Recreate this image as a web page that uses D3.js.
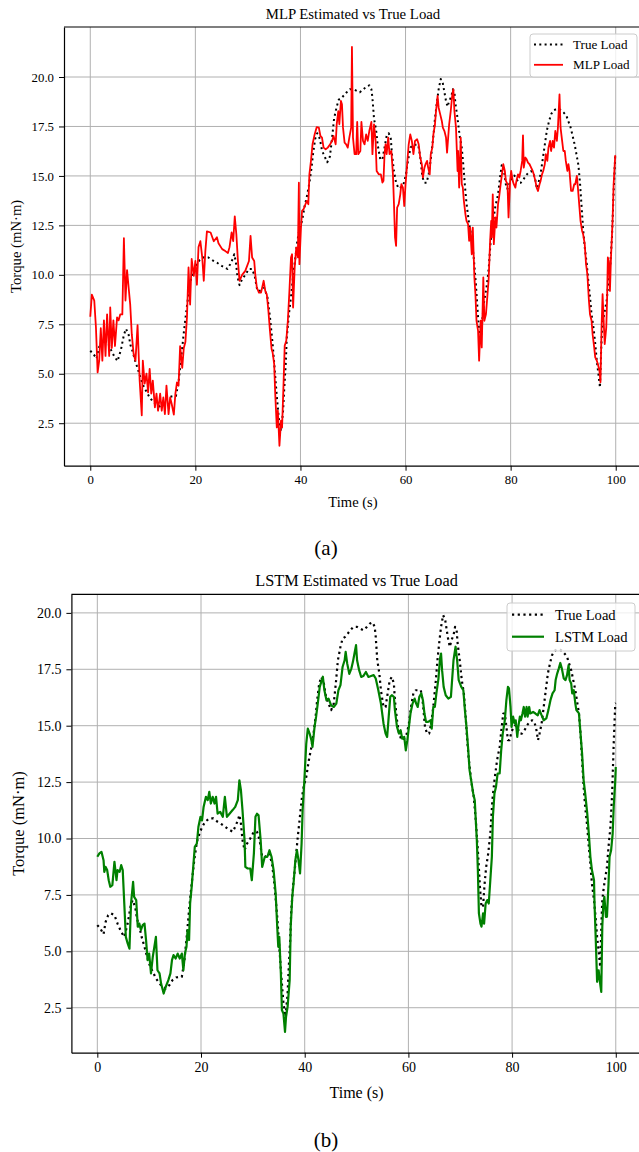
<!DOCTYPE html>
<html>
<head>
<meta charset="utf-8">
<script src="https://cdn.jsdelivr.net/npm/d3@7"></script>
<style>
  body { margin: 0; background: #fff; }
  svg { display: block; font-family: "Liberation Serif", "Times New Roman", serif; }
</style>
</head>
<body>
<svg id="fig" width="639" height="1152"></svg>
<script>
// [time (s), torque (mN·m)]
const trueLoad = [
  [0,6.16],[0.6,6.0],[1.2,5.76],[1.6,6.3],[2.1,6.6],[2.6,6.68],[3.3,6.6],[3.9,6.23],[4.6,5.86],[5.2,5.64],
  [5.85,6.23],[6.4,6.97],[6.8,7.27],[7.3,6.97],[7.65,6.45],[8.1,6.09],[8.55,5.64],[9.1,5.2],[9.6,4.76],[10.1,4.39],
  [10.7,4.09],[11.3,3.8],[12.0,3.57],[12.6,3.43],[13.2,3.35],[13.9,3.5],[14.5,3.72],[15.2,3.84],[15.8,3.87],[16.3,3.87],
  [16.8,4.6],[17.3,5.79],[17.75,6.97],[18.2,8.0],[18.7,9.04],[19.2,9.85],[19.7,10.22],[20.2,10.5],[20.8,10.74],[21.6,10.89],
  [22.4,10.89],[23.2,10.74],[24.2,10.6],[25.1,10.44],[26.1,10.3],[26.6,10.52],[27.1,10.8],[27.4,11.04],[27.7,10.66],[28.0,9.93],
  [28.4,9.48],[28.9,9.78],[29.5,10.0],[30.2,10.3],[30.8,10.3],[31.3,9.93],[31.8,9.19],[32.4,9.19],[33.1,9.34],[33.7,8.9],
  [34.2,7.86],[34.7,6.53],[35.1,5.2],[35.5,3.87],[35.9,2.7],[36.3,2.1],[36.7,3.13],[36.9,4.16],[37.2,5.5],[37.4,6.82],
  [37.8,8.0],[38.2,8.89],[38.6,9.93],[39.0,10.8],[39.4,11.7],[39.8,12.3],[40.3,12.73],[40.8,13.47],[41.3,14.06],[41.7,14.65],
  [42.1,15.39],[42.4,16.13],[42.8,16.87],[43.2,17.16],[43.7,16.87],[44.1,16.28],[44.6,15.98],[45.1,15.69],[45.6,15.98],[46.0,16.87],
  [46.4,17.9],[46.9,18.5],[47.3,18.86],[47.8,18.94],[48.3,19.08],[48.8,19.23],[49.4,19.38],[50.1,19.38],[50.7,19.3],[51.3,19.23],
  [52.0,19.38],[52.6,19.53],[53.1,19.58],[53.5,19.38],[53.7,18.94],[54.0,17.9],[54.4,17.31],[54.7,16.57],[55.2,15.83],[55.6,15.83],
  [56.0,16.43],[56.4,17.02],[56.8,17.16],[57.2,16.87],[57.4,16.13],[57.8,15.24],[58.2,14.65],[58.7,14.36],[59.2,14.43],[59.7,14.65],
  [60.1,15.1],[60.5,15.83],[60.96,16.43],[61.4,16.57],[61.9,16.57],[62.4,16.57],[62.8,15.98],[63.2,14.95],[63.6,14.65],[64.0,14.65],
  [64.4,15.1],[64.8,15.83],[65.3,17.02],[65.6,17.9],[66.0,18.79],[66.3,19.38],[66.7,19.9],[67.1,19.68],[67.4,19.23],[67.7,18.79],
  [68.0,18.5],[68.3,18.79],[68.7,19.0],[69.0,19.38],[69.3,19.23],[69.5,18.64],[69.9,17.9],[70.3,17.02],[70.7,16.43],[71.0,15.54],
  [71.3,14.5],[71.6,13.62],[72.1,12.58],[72.6,11.85],[73.0,10.8],[73.4,9.48],[73.8,7.86],[74.1,6.97],[74.4,6.97],[74.7,8.0],
  [75.0,8.74],[75.4,9.34],[75.8,10.22],[76.2,11.7],[76.6,12.58],[77.1,13.47],[77.6,14.06],[78.0,14.95],[78.3,15.54],[78.6,15.54],
  [78.9,14.95],[79.2,14.36],[79.5,14.36],[79.9,14.73],[80.3,14.95],[80.7,15.02],[81.1,14.87],[81.5,14.65],[81.9,14.65],[82.4,14.8],
  [82.9,15.02],[83.4,15.17],[83.9,15.24],[84.3,15.17],[84.7,14.8],[85.0,14.36],[85.3,14.65],[85.7,15.1],[86.1,15.83],[86.5,16.57],
  [86.9,17.31],[87.3,17.75],[87.7,18.12],[88.2,18.32],[88.7,18.38],[89.2,18.38],[89.6,18.32],[90.1,18.2],[90.6,18.05],[91.0,17.75],
  [91.4,17.46],[91.8,17.02],[92.2,16.57],[92.5,16.13],[92.9,15.54],[93.2,14.65],[93.5,13.47],[93.8,12.29],[94.1,11.4],[94.5,10.52],
  [94.8,9.63],[95.1,8.89],[95.4,8.0],[95.8,7.27],[96.1,6.53],[96.4,5.64],[96.7,5.0],[97.0,4.3],[97.2,6.0],[97.4,7.27],
  [97.7,7.86],[98.0,8.3],[98.3,8.74],[98.6,9.63],[98.97,10.52],[99.3,12.0],[99.6,14.2],[99.9,15.98],[100,16.0]
];

const mlpLoad = [
  [0,7.88],[0.3,9.0],[0.76,8.7],[1.08,7.34],[1.4,5.07],[1.7,5.66],[2.0,7.3],[2.3,5.66],[2.6,7.7],[2.9,5.9],
  [3.2,8.0],[3.6,5.9],[3.8,8.35],[4.1,6.3],[4.4,7.7],[4.7,6.4],[5.1,7.85],[5.4,7.7],[5.7,8.0],[6.1,8.0],
  [6.4,11.85],[6.7,8.7],[7.0,10.24],[7.3,9.36],[7.6,8.5],[7.9,7.0],[8.25,6.0],[8.6,5.66],[9.0,7.46],[9.4,4.65],
  [9.8,2.9],[10.0,5.66],[10.35,4.5],[10.7,5.0],[11.0,4.06],[11.3,5.25],[11.6,4.0],[11.9,4.65],[12.3,3.3],[12.6,4.0],
  [12.9,3.13],[13.3,4.0],[13.6,3.13],[13.9,3.8],[14.2,2.96],[14.5,4.4],[14.9,2.96],[15.2,3.8],[15.5,3.47],[15.9,2.93],
  [16.2,4.0],[16.5,4.56],[16.8,4.4],[17.1,6.4],[17.5,5.3],[17.8,6.3],[18.1,6.6],[18.4,7.85],[18.7,10.37],[19.0,8.5],
  [19.3,10.8],[19.7,9.95],[20.0,10.7],[20.3,9.5],[20.6,11.4],[20.95,11.7],[21.3,10.9],[21.6,9.7],[21.9,11.2],[22.2,12.2],
  [22.9,12.14],[23.5,11.7],[24.1,11.9],[24.4,11.6],[25.1,11.3],[25.7,11.2],[26.2,11.1],[26.5,11.4],[26.9,12.14],[27.2,11.7],
  [27.5,12.96],[27.8,12.05],[28.1,10.7],[28.4,9.7],[28.9,10.0],[29.5,10.2],[30.2,10.7],[30.5,11.97],[30.8,10.88],[31.2,10.7],
  [31.4,10.03],[31.7,9.36],[32.1,9.1],[32.5,9.1],[33.0,9.7],[33.3,9.19],[33.6,9.0],[33.9,8.18],[34.2,7.17],[34.5,6.25],
  [34.7,6.08],[35.0,5.49],[35.2,3.97],[35.5,2.29],[35.7,3.13],[36.0,1.36],[36.3,2.63],[36.5,2.29],[36.8,4.65],[37.0,6.41],
  [37.3,6.67],[37.6,7.68],[37.9,9.19],[38.2,10.88],[38.4,11.04],[38.6,8.35],[38.9,10.37],[39.2,11.38],[39.5,10.88],[39.7,14.66],
  [39.8,10.54],[40.1,12.39],[40.3,13.23],[40.6,13.32],[40.95,13.57],[41.2,13.74],[41.5,13.57],[41.7,15.08],[42.0,15.76],[42.3,16.6],
  [42.7,17.1],[43.1,17.47],[43.5,17.44],[43.8,17.02],[44.1,16.94],[44.4,16.43],[44.8,16.35],[45.2,16.43],[45.65,16.6],[46.0,16.77],
  [46.3,17.02],[46.7,16.6],[46.9,17.61],[47.2,18.28],[47.4,17.61],[47.7,18.79],[47.9,18.62],[48.1,17.44],[48.4,16.68],[48.7,16.6],
  [49.0,16.43],[49.3,16.94],[49.65,17.44],[49.8,21.52],[50.0,16.94],[50.3,16.1],[50.6,16.1],[50.8,17.73],[51.0,16.1],[51.4,16.26],
  [51.6,17.73],[51.9,16.77],[52.2,16.6],[52.5,17.1],[52.8,16.77],[53.1,17.27],[53.5,17.73],[53.7,16.1],[54.0,17.61],[54.3,16.77],
  [54.5,15.25],[54.9,15.08],[55.3,15.08],[55.6,14.66],[55.8,14.75],[56.0,16.1],[56.2,16.6],[56.4,16.1],[56.7,16.94],[56.95,16.1],
  [57.3,16.26],[57.6,15.08],[57.8,13.57],[58.0,11.89],[58.2,11.46],[58.4,13.4],[58.7,13.57],[59.0,14.07],[59.2,14.58],[59.5,14.41],
  [59.75,13.48],[60.0,14.58],[60.25,15.42],[60.6,16.6],[60.9,17.1],[61.2,16.77],[61.5,16.1],[61.8,16.77],[62.2,16.85],[62.5,16.6],
  [62.8,15.93],[63.1,15.59],[63.3,14.92],[63.6,15.42],[63.8,15.59],[64.1,15.76],[64.3,15.42],[64.6,15.08],[64.8,16.1],[65.1,16.43],
  [65.3,17.1],[65.6,17.61],[65.8,18.28],[66.1,19.04],[66.3,18.45],[66.6,18.11],[66.9,17.78],[67.1,17.44],[67.4,17.27],[67.7,16.94],
  [67.9,16.18],[68.3,17.61],[68.6,18.28],[68.9,19.12],[69.1,19.38],[69.3,18.28],[69.6,17.44],[69.9,15.25],[70.0,16.26],[70.2,14.41],
  [70.5,16.94],[70.7,14.58],[70.9,14.41],[71.1,13.74],[71.4,13.06],[71.6,12.73],[71.9,12.56],[72.1,11.72],[72.3,12.39],[72.6,11.04],
  [72.8,12.39],[73.1,9.87],[73.3,9.02],[73.5,7.68],[73.8,7.17],[74.0,5.66],[74.3,7.68],[74.5,6.33],[74.8,9.87],[75.0,7.68],
  [75.3,8.01],[75.6,9.02],[75.8,9.7],[76.1,11.72],[76.3,12.73],[76.4,11.89],[76.6,14.07],[76.8,11.55],[77.1,12.9],[77.3,12.39],
  [77.6,13.57],[77.8,13.91],[78.1,14.58],[78.35,15.08],[78.6,15.59],[78.9,15.25],[79.1,14.75],[79.4,14.58],[79.6,12.9],[79.9,14.75],
  [80.1,15.25],[80.4,14.75],[80.6,14.58],[80.9,14.41],[81.1,14.75],[81.4,15.08],[81.65,14.92],[81.9,15.25],[82.2,15.76],[82.35,17.05],
  [82.5,15.42],[82.8,15.93],[83.05,15.84],[83.3,15.67],[83.6,15.59],[83.9,15.42],[84.2,15.25],[84.4,15.08],[84.7,14.75],[84.95,14.41],
  [85.2,14.24],[85.5,14.58],[85.7,14.75],[85.97,15.08],[86.2,15.25],[86.5,15.59],[86.7,16.1],[86.98,15.76],[87.2,16.43],[87.5,16.77],
  [87.7,16.26],[88.0,16.77],[88.25,16.43],[88.5,17.27],[88.8,16.77],[89.0,17.44],[89.3,19.12],[89.5,17.44],[89.8,16.77],[90.03,16.26],
  [90.3,16.26],[90.5,15.76],[90.8,15.25],[91.0,15.59],[91.2,15.25],[91.5,14.24],[91.8,14.24],[92.1,14.58],[92.3,14.58],[92.6,15.0],
  [92.8,14.41],[93.1,13.4],[93.3,12.73],[93.6,12.22],[93.8,12.05],[94.1,11.55],[94.35,10.54],[94.6,10.03],[94.9,8.69],[95.1,8.01],
  [95.4,7.68],[95.6,7.0],[95.9,6.33],[96.1,5.83],[96.4,5.66],[96.6,5.49],[96.9,5.15],[97.1,4.56],[97.3,7.34],[97.5,9.02],
  [97.7,7.68],[97.9,6.5],[98.2,7.34],[98.35,8.69],[98.5,10.88],[98.7,10.7],[98.9,9.19],[99.1,10.88],[99.4,12.73],[99.6,14.58],
  [99.9,16.01],[100,16.04]
];

const lstmLoad = [
  [0,9.19],[0.4,9.34],[0.8,9.41],[1.2,9.04],[1.35,8.52],[1.6,8.74],[1.9,8.6],[2.2,8.15],[2.5,7.86],[2.9,7.93],
  [3.3,8.97],[3.7,8.15],[3.9,8.6],[4.3,8.52],[4.6,8.82],[4.9,8.6],[5.2,7.12],[5.5,5.64],[5.85,5.35],[6.2,5.12],
  [6.5,7.12],[6.9,8.08],[7.1,7.41],[7.5,7.27],[7.8,6.09],[8.1,6.23],[8.4,5.94],[8.75,6.16],[9.1,6.23],[9.4,5.5],
  [9.7,4.61],[10.0,4.9],[10.35,4.02],[10.7,4.76],[11.0,5.2],[11.3,5.64],[11.6,4.16],[12.0,4.02],[12.3,3.57],[12.8,3.13],
  [13.2,3.43],[13.7,3.72],[14.1,4.02],[14.4,4.61],[14.7,4.83],[15.1,4.68],[15.5,4.9],[15.9,4.68],[16.3,4.9],[16.6,4.16],
  [16.9,4.9],[17.2,5.2],[17.4,5.94],[17.7,5.5],[17.9,7.12],[18.2,7.86],[18.6,9.04],[18.8,9.63],[19.2,9.78],[19.5,10.52],
  [19.9,10.96],[20.2,10.8],[20.5,11.4],[20.95,11.85],[21.3,11.7],[21.6,12.07],[21.9,11.55],[22.25,11.85],[22.6,11.55],[22.9,11.85],
  [23.2,11.1],[23.7,11.18],[24.2,10.96],[24.6,11.85],[25.0,10.96],[25.5,11.1],[26.1,11.26],[26.6,11.4],[27.1,11.7],[27.4,12.58],
  [27.7,12.14],[28.0,11.26],[28.4,9.93],[28.55,8.74],[29.0,8.67],[29.5,8.67],[29.8,8.15],[30.2,9.34],[30.5,10.96],[30.8,11.1],
  [31.1,11.03],[31.5,9.93],[31.8,8.74],[32.3,9.19],[32.8,9.19],[33.2,9.48],[33.6,9.19],[34.0,8.6],[34.4,7.56],[34.7,6.09],
  [34.9,5.2],[35.1,5.64],[35.4,4.02],[35.6,2.4],[35.9,2.24],[36.2,1.43],[36.4,2.1],[36.7,2.54],[37.1,3.72],[37.3,6.09],
  [37.6,7.41],[37.9,8.15],[38.2,9.04],[38.5,9.48],[38.8,9.04],[39.1,8.45],[39.4,9.78],[39.6,11.26],[39.9,12.44],[40.3,14.2],
  [40.6,14.87],[40.95,14.65],[41.3,14.35],[41.5,14.06],[41.9,14.95],[42.2,15.4],[42.6,16.13],[42.9,16.72],[43.2,16.94],[43.5,17.17],
  [43.8,16.57],[44.2,16.13],[44.6,16.2],[45.1,15.9],[45.6,15.83],[46.1,15.98],[46.5,16.57],[46.9,16.8],[47.3,17.6],[47.7,17.9],
  [47.9,18.27],[48.2,17.75],[48.6,17.3],[49.0,17.53],[49.3,17.83],[49.6,18.2],[49.9,18.57],[50.1,17.9],[50.5,17.46],[50.9,17.16],
  [51.3,17.2],[51.8,17.38],[52.3,17.16],[52.8,17.2],[53.3,17.24],[53.7,17.09],[54.2,16.57],[54.7,15.98],[55.2,15.1],[55.6,14.65],
  [55.9,14.5],[56.2,15.39],[56.5,16.28],[56.8,16.35],[57.2,16.28],[57.4,15.69],[57.8,14.95],[58.2,14.65],[58.5,14.8],[58.8,14.43],
  [59.2,14.5],[59.5,13.91],[59.8,14.36],[60.1,14.95],[60.4,15.54],[60.8,15.98],[61.2,16.2],[61.5,15.98],[61.8,15.83],[62.1,16.28],
  [62.5,16.43],[62.8,16.13],[63.1,15.54],[63.4,15.17],[63.8,15.17],[64.3,15.24],[64.5,14.87],[64.8,15.83],[65.1,15.83],[65.4,16.43],
  [65.8,17.09],[66.1,17.98],[66.3,18.2],[66.5,17.46],[66.8,16.72],[67.2,16.35],[67.7,16.2],[68.2,16.28],[68.7,17.9],[69.1,18.5],
  [69.4,17.9],[69.7,17.02],[70.2,16.72],[70.6,16.57],[70.9,15.69],[71.2,14.95],[71.5,14.06],[71.8,13.03],[72.2,12.44],[72.5,12.0],
  [72.8,11.7],[73.0,10.8],[73.2,9.93],[73.4,8.6],[73.6,6.68],[73.9,6.23],[74.1,6.09],[74.4,6.68],[74.6,6.23],[74.9,7.12],
  [75.2,7.27],[75.5,7.12],[75.8,8.15],[76.1,9.19],[76.3,10.96],[76.6,12.0],[76.9,12.29],[77.2,12.88],[77.6,12.88],[77.9,13.91],
  [78.2,14.65],[78.6,15.24],[78.9,16.13],[79.2,16.72],[79.4,16.65],[79.7,15.83],[79.9,14.95],[80.2,15.4],[80.5,15.1],[80.7,15.24],
  [81.0,14.5],[81.2,14.95],[81.5,15.4],[81.7,15.24],[82.0,15.54],[82.25,15.83],[82.5,15.4],[82.8,15.83],[83.0,15.4],[83.3,15.83],
  [83.5,15.54],[84.05,15.61],[84.5,15.54],[84.95,15.46],[85.3,15.69],[85.7,15.46],[86.1,15.24],[86.6,15.32],[87.0,15.69],[87.4,16.13],
  [87.8,16.43],[88.2,16.57],[88.4,17.02],[88.7,17.31],[89.0,17.53],[89.3,17.78],[89.6,17.53],[89.97,17.09],[90.3,17.02],[90.6,17.24],
  [90.9,17.68],[91.1,17.02],[91.4,16.87],[91.6,16.43],[91.9,16.57],[92.2,15.98],[92.4,15.69],[92.7,15.61],[92.9,15.54],[93.2,14.65],
  [93.5,13.77],[93.8,12.58],[94.1,12.0],[94.5,11.1],[94.8,10.22],[95.1,9.19],[95.4,8.6],[95.8,8.15],[95.9,7.12],[96.1,5.79],
  [96.4,3.65],[96.7,4.16],[96.9,3.72],[97.2,3.2],[97.4,6.09],[97.6,7.12],[97.8,7.41],[98.1,6.53],[98.3,6.53],[98.6,8.0],
  [98.8,9.19],[99.1,9.48],[99.4,10.22],[99.6,11.4],[99.9,12.58],[100,13.17]
];

const xTicks = [0, 20, 40, 60, 80, 100];
const yTicks = [2.5, 5.0, 7.5, 10.0, 12.5, 15.0, 17.5, 20.0];

const svg = d3.select('#fig');

function drawPanel(p) {
  const g = svg.append('g');
  const all = p.series.flatMap(s => s.data);
  const xe = d3.extent(all, d => d[0]);
  const ye = d3.extent(all, d => d[1]);
  const xm = (xe[1] - xe[0]) * 0.05, ym = (ye[1] - ye[0]) * 0.05;
  const x = d3.scaleLinear([xe[0] - xm, xe[1] + xm], [p.left, p.right]);
  const y = d3.scaleLinear([ye[0] - ym, ye[1] + ym], [p.bottom, p.top]);

  // grid
  g.append('g').selectAll('line').data(xTicks).join('line')
    .attr('x1', d => x(d)).attr('x2', d => x(d))
    .attr('y1', p.top).attr('y2', p.bottom)
    .attr('stroke', '#b0b0b0').attr('stroke-width', 1);
  g.append('g').selectAll('line').data(yTicks).join('line')
    .attr('x1', p.left).attr('x2', p.right)
    .attr('y1', d => y(d)).attr('y2', d => y(d))
    .attr('stroke', '#b0b0b0').attr('stroke-width', 1);

  const clipId = 'clip-' + p.id;
  g.append('clipPath').attr('id', clipId)
    .append('rect')
    .attr('x', p.left).attr('y', p.top)
    .attr('width', p.right - p.left).attr('height', p.bottom - p.top);

  const line = d3.line().x(d => x(d[0])).y(d => y(d[1]));
  g.append('g').attr('clip-path', `url(#${clipId})`)
    .selectAll('path').data(p.series).join('path')
    .attr('d', s => line(s.data))
    .attr('fill', 'none')
    .attr('stroke', s => s.color)
    .attr('stroke-width', s => s.width)
    .attr('stroke-dasharray', s => s.dash)
    .attr('stroke-linejoin', 'round');

  // axes
  const ax = g.append('g')
    .attr('transform', `translate(0,${p.bottom})`)
    .call(d3.axisBottom(x).tickValues(xTicks).tickFormat(d3.format('d'))
      .tickSize(5).tickSizeOuter(0).tickPadding(4));
  const ay = g.append('g')
    .attr('transform', `translate(${p.left},0)`)
    .call(d3.axisLeft(y).tickValues(yTicks).tickFormat(d3.format('.1f'))
      .tickSize(5).tickSizeOuter(0).tickPadding(5));
  [ax, ay].forEach(a => {
    a.attr('font-family', null).attr('font-size', p.tickFont);
    a.selectAll('text').attr('fill', '#000');
    a.selectAll('line').attr('stroke', '#000').attr('stroke-width', 1);
    a.select('.domain').attr('stroke', '#000').attr('stroke-width', 1.2);
  });
  g.append('line')
    .attr('x1', p.left).attr('x2', p.right)
    .attr('y1', p.top).attr('y2', p.top)
    .attr('stroke', '#000').attr('stroke-width', 1.2);

  // texts
  g.append('text')
    .attr('x', (p.left + p.right) / 2).attr('y', p.titleY)
    .attr('text-anchor', 'middle').attr('font-size', p.titleFont)
    .text(p.title);
  g.append('text')
    .attr('x', (p.left + p.right) / 2).attr('y', p.xLabelY)
    .attr('text-anchor', 'middle').attr('font-size', p.labelFont)
    .text('Time (s)');
  g.append('text')
    .attr('transform', `translate(${p.yLabelX},${(p.top + p.bottom) / 2}) rotate(-90)`)
    .attr('text-anchor', 'middle').attr('font-size', p.yLabelFont)
    .text('Torque (mN·m)');
  g.append('text')
    .attr('x', 326).attr('y', p.capY)
    .attr('text-anchor', 'middle').attr('font-size', 21)
    .text(p.caption);

  // legend
  const lg = g.append('g');
  lg.append('rect')
    .attr('x', p.legend.x).attr('y', p.legend.y)
    .attr('width', p.legend.w).attr('height', p.legend.h)
    .attr('rx', 3)
    .attr('fill', '#fff').attr('fill-opacity', 0.8)
    .attr('stroke', '#cccccc').attr('stroke-width', 1);
  const items = lg.selectAll('g.item').data(p.series).join('g')
    .attr('class', 'item')
    .attr('transform', (s, i) => `translate(0,${p.legend.row0 + i * p.legend.dy})`);
  items.append('line')
    .attr('x1', p.legend.lx0).attr('x2', p.legend.lx1)
    .attr('stroke', s => s.color)
    .attr('stroke-width', s => s.width)
    .attr('stroke-dasharray', s => s.dash);
  items.append('text')
    .attr('x', p.legend.tx).attr('dy', '0.33em')
    .attr('font-size', p.legendFont)
    .text(s => s.name);
}

drawPanel({
  id: 'a',
  left: 64, right: 642, top: 27, bottom: 465.7,
  title: 'MLP Estimated vs True Load', titleY: 19, titleFont: 14.8,
  tickFont: 12.8, labelFont: 14.6, yLabelFont: 14.7,
  xLabelY: 507, yLabelX: 21,
  caption: '(a)', capY: 555,
  legendFont: 13.1,
  legend: { x: 530, y: 34, w: 107, h: 43, row0: 44.5, dy: 20.3, lx0: 534, lx1: 563, tx: 573 },
  series: [
    { name: 'True Load', data: trueLoad, color: '#000', width: 2, dash: '2,3.3' },
    { name: 'MLP Load', data: mlpLoad, color: '#ff0000', width: 1.8, dash: null }
  ]
});

drawPanel({
  id: 'b',
  left: 71.4, right: 641.7, top: 594.3, bottom: 1052.7,
  title: 'LSTM Estimated vs True Load', titleY: 586, titleFont: 16.3,
  tickFont: 14, labelFont: 16, yLabelFont: 16.5,
  xLabelY: 1098, yLabelX: 24,
  caption: '(b)', capY: 1147,
  legendFont: 14.6,
  legend: { x: 507, y: 603, w: 128, h: 48, row0: 614.7, dy: 22, lx0: 512, lx1: 544, tx: 555 },
  series: [
    { name: 'True Load', data: trueLoad, color: '#000', width: 2.2, dash: '2.2,3.5' },
    { name: 'LSTM Load', data: lstmLoad, color: '#008000', width: 2.2, dash: null }
  ]
});
</script>
</body>
</html>
